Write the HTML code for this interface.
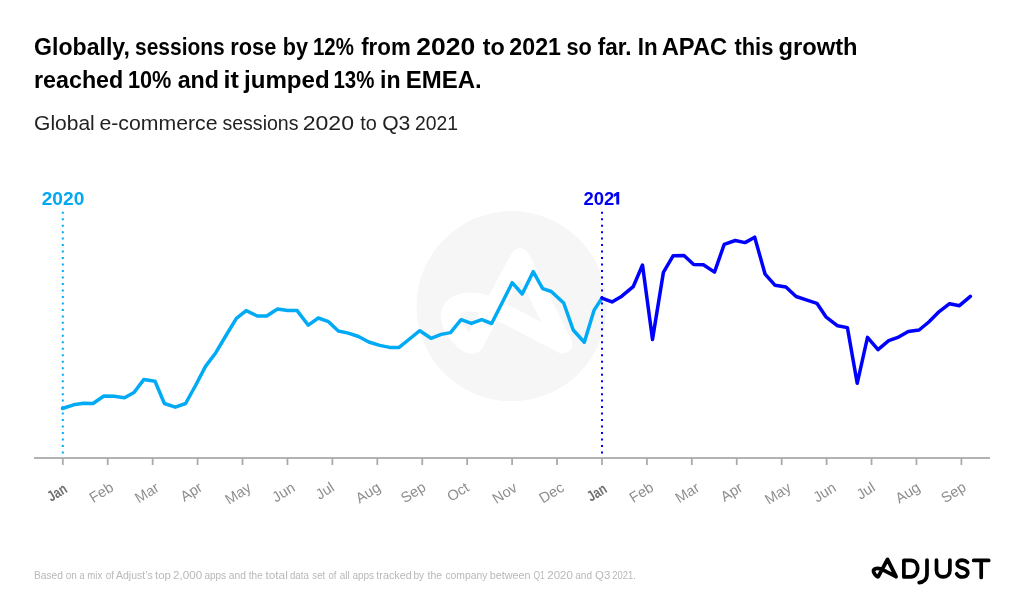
<!DOCTYPE html>
<html><head><meta charset="utf-8"><style>
html,body{margin:0;padding:0;background:#fff;width:1024px;height:613px;overflow:hidden}
svg{display:block;will-change:transform}
text{font-family:"Liberation Sans",sans-serif}
</style></head><body>
<svg width="1024" height="613" viewBox="0 0 1024 613">
<rect width="1024" height="613" fill="#fff"/>
<g font-size="23" font-weight="bold" fill="#000"><text x="34.1" y="54.5" textLength="95.75" lengthAdjust="spacingAndGlyphs">Globally,</text><text x="135.09" y="54.5" textLength="89.62" lengthAdjust="spacingAndGlyphs">sessions</text><text x="230.25" y="54.5" textLength="46.01" lengthAdjust="spacingAndGlyphs">rose</text><text x="282.76" y="54.5" textLength="25.19" lengthAdjust="spacingAndGlyphs">by</text><text x="312.91" y="54.5" textLength="40.93" lengthAdjust="spacingAndGlyphs">12%</text><text x="361.2" y="54.5" textLength="49.59" lengthAdjust="spacingAndGlyphs">from</text><text x="416.15" y="54.5" textLength="59.0" lengthAdjust="spacingAndGlyphs">2020</text><text x="482.7" y="54.5" textLength="22.03" lengthAdjust="spacingAndGlyphs">to</text><text x="509.39" y="54.5" textLength="51.58" lengthAdjust="spacingAndGlyphs">2021</text><text x="566.56" y="54.5" textLength="25.34" lengthAdjust="spacingAndGlyphs">so</text><text x="597.8" y="54.5" textLength="33.8" lengthAdjust="spacingAndGlyphs">far.</text><text x="637.73" y="54.5" textLength="19.88" lengthAdjust="spacingAndGlyphs">In</text><text x="661.67" y="54.5" textLength="65.62" lengthAdjust="spacingAndGlyphs">APAC</text><text x="734.4" y="54.5" textLength="38.95" lengthAdjust="spacingAndGlyphs">this</text><text x="778.57" y="54.5" textLength="78.94" lengthAdjust="spacingAndGlyphs">growth</text></g>
<g font-size="23" font-weight="bold" fill="#000"><text x="34.09" y="87.5" textLength="89.14" lengthAdjust="spacingAndGlyphs">reached</text><text x="127.96" y="87.5" textLength="43.49" lengthAdjust="spacingAndGlyphs">10%</text><text x="177.69" y="87.5" textLength="41.32" lengthAdjust="spacingAndGlyphs">and</text><text x="223.42" y="87.5" textLength="15.35" lengthAdjust="spacingAndGlyphs">it</text><text x="244.0" y="87.5" textLength="85.67" lengthAdjust="spacingAndGlyphs">jumped</text><text x="333.51" y="87.5" textLength="40.93" lengthAdjust="spacingAndGlyphs">13%</text><text x="380.09" y="87.5" textLength="20.57" lengthAdjust="spacingAndGlyphs">in</text><text x="405.76" y="87.5" textLength="75.97" lengthAdjust="spacingAndGlyphs">EMEA.</text></g>
<g font-size="20.5" fill="#222"><text x="34.08" y="130.2" textLength="60.72" lengthAdjust="spacingAndGlyphs">Global</text><text x="99.46" y="130.2" textLength="118.09" lengthAdjust="spacingAndGlyphs">e-commerce</text><text x="222.45" y="130.2" textLength="76.08" lengthAdjust="spacingAndGlyphs">sessions</text><text x="302.68" y="130.2" textLength="51.31" lengthAdjust="spacingAndGlyphs">2020</text><text x="360.3" y="130.2" textLength="16.61" lengthAdjust="spacingAndGlyphs">to</text><text x="382.17" y="130.2" textLength="28.2" lengthAdjust="spacingAndGlyphs">Q3</text><text x="414.96" y="130.2" textLength="43.02" lengthAdjust="spacingAndGlyphs">2021</text></g>
<circle cx="511.6" cy="306.2" r="95.1" fill="#f6f6f6"/>
<path d="M562.8,344 L520,257.7 L474.5,342.5 C471,349 457,337 451,321 C446,305 465,297 490,306 L562.8,344" fill="none" stroke="#fff" stroke-width="19" stroke-linejoin="round" stroke-linecap="round"/>
<text x="41.7" y="204.6" font-size="18.5" font-weight="bold" fill="#00a8f2" textLength="42.6" lengthAdjust="spacingAndGlyphs">2020</text>
<text x="583.5" y="204.6" font-size="18.5" font-weight="bold" fill="#0000f0">202</text>
<path fill="#0000f0" d="M619.2,192 V204.6 H616.3 V195.6 L613.8,197.2 V194.2 L617,192 Z"/>
<line x1="34" y1="458" x2="990" y2="458" stroke="#b3b3b3" stroke-width="2"/>
<g stroke="#aaa" stroke-width="1.8"><line x1="62.80" y1="458" x2="62.80" y2="465"/><line x1="107.73" y1="458" x2="107.73" y2="465"/><line x1="152.66" y1="458" x2="152.66" y2="465"/><line x1="197.59" y1="458" x2="197.59" y2="465"/><line x1="242.52" y1="458" x2="242.52" y2="465"/><line x1="287.45" y1="458" x2="287.45" y2="465"/><line x1="332.38" y1="458" x2="332.38" y2="465"/><line x1="377.31" y1="458" x2="377.31" y2="465"/><line x1="422.24" y1="458" x2="422.24" y2="465"/><line x1="467.17" y1="458" x2="467.17" y2="465"/><line x1="512.10" y1="458" x2="512.10" y2="465"/><line x1="557.03" y1="458" x2="557.03" y2="465"/><line x1="601.96" y1="458" x2="601.96" y2="465"/><line x1="646.89" y1="458" x2="646.89" y2="465"/><line x1="691.82" y1="458" x2="691.82" y2="465"/><line x1="736.75" y1="458" x2="736.75" y2="465"/><line x1="781.68" y1="458" x2="781.68" y2="465"/><line x1="826.61" y1="458" x2="826.61" y2="465"/><line x1="871.54" y1="458" x2="871.54" y2="465"/><line x1="916.47" y1="458" x2="916.47" y2="465"/><line x1="961.40" y1="458" x2="961.40" y2="465"/></g>
<g font-size="14.6" fill="#8e8e8e"><text x="68.20" y="491.5" transform="rotate(-32 68.20 491.5)" text-anchor="end" font-weight="bold" fill="#6e6e6e" font-size="15" textLength="20" lengthAdjust="spacingAndGlyphs">Jan</text><text x="114.58" y="490.0" transform="rotate(-32 114.58 490.0)" text-anchor="end">Feb</text><text x="160.16" y="490.25" transform="rotate(-32 160.16 490.25)" text-anchor="end">Mar</text><text x="203.44" y="489.95" transform="rotate(-32 203.44 489.95)" text-anchor="end">Apr</text><text x="252.32" y="490.4" transform="rotate(-32 252.32 490.4)" text-anchor="end">May</text><text x="296.05" y="490.25" transform="rotate(-32 296.05 490.25)" text-anchor="end">Jun</text><text x="335.33" y="490.05" transform="rotate(-32 335.33 490.05)" text-anchor="end">Jul</text><text x="381.61" y="489.9" transform="rotate(-32 381.61 489.9)" text-anchor="end">Aug</text><text x="426.79" y="489.75" transform="rotate(-32 426.79 489.75)" text-anchor="end">Sep</text><text x="470.17" y="490.05" transform="rotate(-32 470.17 490.05)" text-anchor="end">Oct</text><text x="518.30" y="490.45" transform="rotate(-32 518.30 490.45)" text-anchor="end">Nov</text><text x="565.08" y="490.1" transform="rotate(-32 565.08 490.1)" text-anchor="end">Dec</text><text x="608.06" y="491.5" transform="rotate(-32 608.06 491.5)" text-anchor="end" font-weight="bold" fill="#6e6e6e" font-size="15" textLength="20" lengthAdjust="spacingAndGlyphs">Jan</text><text x="654.69" y="490.0" transform="rotate(-32 654.69 490.0)" text-anchor="end">Feb</text><text x="700.62" y="490.25" transform="rotate(-32 700.62 490.25)" text-anchor="end">Mar</text><text x="743.75" y="490.1" transform="rotate(-32 743.75 490.1)" text-anchor="end">Apr</text><text x="792.13" y="490.4" transform="rotate(-32 792.13 490.4)" text-anchor="end">May</text><text x="837.11" y="490.25" transform="rotate(-32 837.11 490.25)" text-anchor="end">Jun</text><text x="876.24" y="490.05" transform="rotate(-32 876.24 490.05)" text-anchor="end">Jul</text><text x="921.22" y="489.9" transform="rotate(-32 921.22 489.9)" text-anchor="end">Aug</text><text x="967.05" y="489.75" transform="rotate(-32 967.05 489.75)" text-anchor="end">Sep</text></g>
<polyline points="62.5,408.5 73.5,404.8 83.7,403.2 93.0,403.5 103.9,396.0 113.8,396.2 124.5,397.7 134.0,392.5 143.9,379.4 155.0,381.2 164.4,403.5 175.3,407.2 185.6,403.5 195.8,385.0 205.5,366.4 215.8,352.7 226.0,335.5 236.4,318.4 246.2,310.6 257.3,316.0 266.7,316.0 277.5,309.0 287.7,310.6 297.1,310.6 308.3,325.2 318.3,318.0 328.5,321.7 338.3,331.0 348.3,333.1 358.5,336.5 368.8,342.0 379.7,345.4 389.7,347.4 399.1,347.4 409.5,339.0 419.8,330.7 431.0,338.3 441.2,334.4 450.5,332.6 461.1,319.7 471.4,323.4 481.7,319.7 491.6,323.5 502.0,303.0 512.2,282.7 522.2,294.0 533.2,271.7 542.7,288.6 551.3,291.5 563.7,303.0 573.2,330.0 584.3,342.2 594.0,310.4 601.9,298.1" fill="none" stroke="#00aaf5" stroke-width="3.5" stroke-linejoin="round" stroke-linecap="round"/>
<line x1="62.8" y1="211.7" x2="62.8" y2="456" stroke="#00a8f5" stroke-width="2" stroke-dasharray="2 4.48"/>
<line x1="602" y1="211.7" x2="602" y2="456" stroke="#0000ff" stroke-width="2" stroke-dasharray="2 4.48"/>
<polyline points="601.9,298.1 612.0,301.9 621.8,296.2 633.2,286.7 642.5,265.0 652.5,339.4 663.4,272.4 673.2,255.7 684.0,255.5 693.7,264.5 703.4,264.8 714.5,272.1 724.2,244.4 735.3,240.5 745.0,242.6 754.7,237.2 765.1,274.2 775.1,285.3 785.9,287.0 796.1,296.5 807.0,300.1 816.9,303.3 825.9,316.8 837.6,325.8 847.4,327.6 857.2,383.3 867.5,337.4 878.0,349.6 888.7,340.7 898.6,337.1 908.3,331.5 919.1,330.0 928.8,322.0 939.2,311.6 949.6,303.7 959.4,305.7 970.4,296.3" fill="none" stroke="#0000ff" stroke-width="3.5" stroke-linejoin="round" stroke-linecap="round"/>
<g font-size="10.25" fill="#b8b8b8"><text x="33.9" y="579" textLength="28.97" lengthAdjust="spacingAndGlyphs">Based</text><text x="65.7" y="579" textLength="11.1" lengthAdjust="spacingAndGlyphs">on</text><text x="79.4" y="579" textLength="5.04" lengthAdjust="spacingAndGlyphs">a</text><text x="87.26" y="579" textLength="15.0" lengthAdjust="spacingAndGlyphs">mix</text><text x="105.7" y="579" textLength="8.37" lengthAdjust="spacingAndGlyphs">of</text><text x="115.9" y="579" textLength="36.84" lengthAdjust="spacingAndGlyphs">Adjust’s</text><text x="155.0" y="579" textLength="15.88" lengthAdjust="spacingAndGlyphs">top</text><text x="173.0" y="579" textLength="29.15" lengthAdjust="spacingAndGlyphs">2,000</text><text x="204.4" y="579" textLength="21.73" lengthAdjust="spacingAndGlyphs">apps</text><text x="228.8" y="579" textLength="17.21" lengthAdjust="spacingAndGlyphs">and</text><text x="248.8" y="579" textLength="13.94" lengthAdjust="spacingAndGlyphs">the</text><text x="265.4" y="579" textLength="22.43" lengthAdjust="spacingAndGlyphs">total</text><text x="289.9" y="579" textLength="18.96" lengthAdjust="spacingAndGlyphs">data</text><text x="312.3" y="579" textLength="12.91" lengthAdjust="spacingAndGlyphs">set</text><text x="328.5" y="579" textLength="7.9" lengthAdjust="spacingAndGlyphs">of</text><text x="339.7" y="579" textLength="10.06" lengthAdjust="spacingAndGlyphs">all</text><text x="352.4" y="579" textLength="21.73" lengthAdjust="spacingAndGlyphs">apps</text><text x="376.3" y="579" textLength="35.36" lengthAdjust="spacingAndGlyphs">tracked</text><text x="413.42" y="579" textLength="10.61" lengthAdjust="spacingAndGlyphs">by</text><text x="427.6" y="579" textLength="14.45" lengthAdjust="spacingAndGlyphs">the</text><text x="445.4" y="579" textLength="42.09" lengthAdjust="spacingAndGlyphs">company</text><text x="489.75" y="579" textLength="40.86" lengthAdjust="spacingAndGlyphs">between</text><text x="533.4" y="579" textLength="11.27" lengthAdjust="spacingAndGlyphs">Q1</text><text x="547.3" y="579" textLength="25.61" lengthAdjust="spacingAndGlyphs">2020</text><text x="575.3" y="579" textLength="16.71" lengthAdjust="spacingAndGlyphs">and</text><text x="595.1" y="579" textLength="15.27" lengthAdjust="spacingAndGlyphs">Q3</text><text x="612.3" y="579" textLength="23.71" lengthAdjust="spacingAndGlyphs">2021.</text></g>
<g fill="none" stroke="#000" stroke-width="3.7" stroke-linecap="round" stroke-linejoin="round">
<path transform="translate(887.5 559.4) scale(0.2) translate(-520 -257.7)" stroke-width="19" d="M562.8,344 L520,257.7 L474.5,342.5 C471,349 457,337 451,321 C446,305 465,297 490,306 L562.8,344"/>
<path d="M903.9,560.3 L903.9,576.9 L910.5,576.9 C915,576.9 917.7,573 917.7,568.6 C917.7,564 915,560.3 910.5,560.3 Z"/>
<path d="M927,560.1 L927,574 C927,579.5 923.5,582.2 919.2,582.6"/>
<path d="M936.5,560.1 L936.5,570.2 C936.5,574.5 939.5,576.9 943.2,576.9 C946.9,576.9 949.9,574.5 949.9,570.2 L949.9,560.1"/>
<path d="M967.5,562.4 C966,560.7 964.3,560.2 962.3,560.2 C959.3,560.2 957.2,561.8 957.2,564 C957.2,566.5 959.5,567.3 962.5,568.1 C965.8,569 967.8,570.2 967.8,572.8 C967.8,575.5 965.3,577 962.2,577 C959.8,577 957.8,575.8 956.7,573.8"/>
<path d="M973.7,560.4 L988.7,560.4 M981.2,560.4 L981.2,577.4"/>
</g>
</svg>
</body></html>
